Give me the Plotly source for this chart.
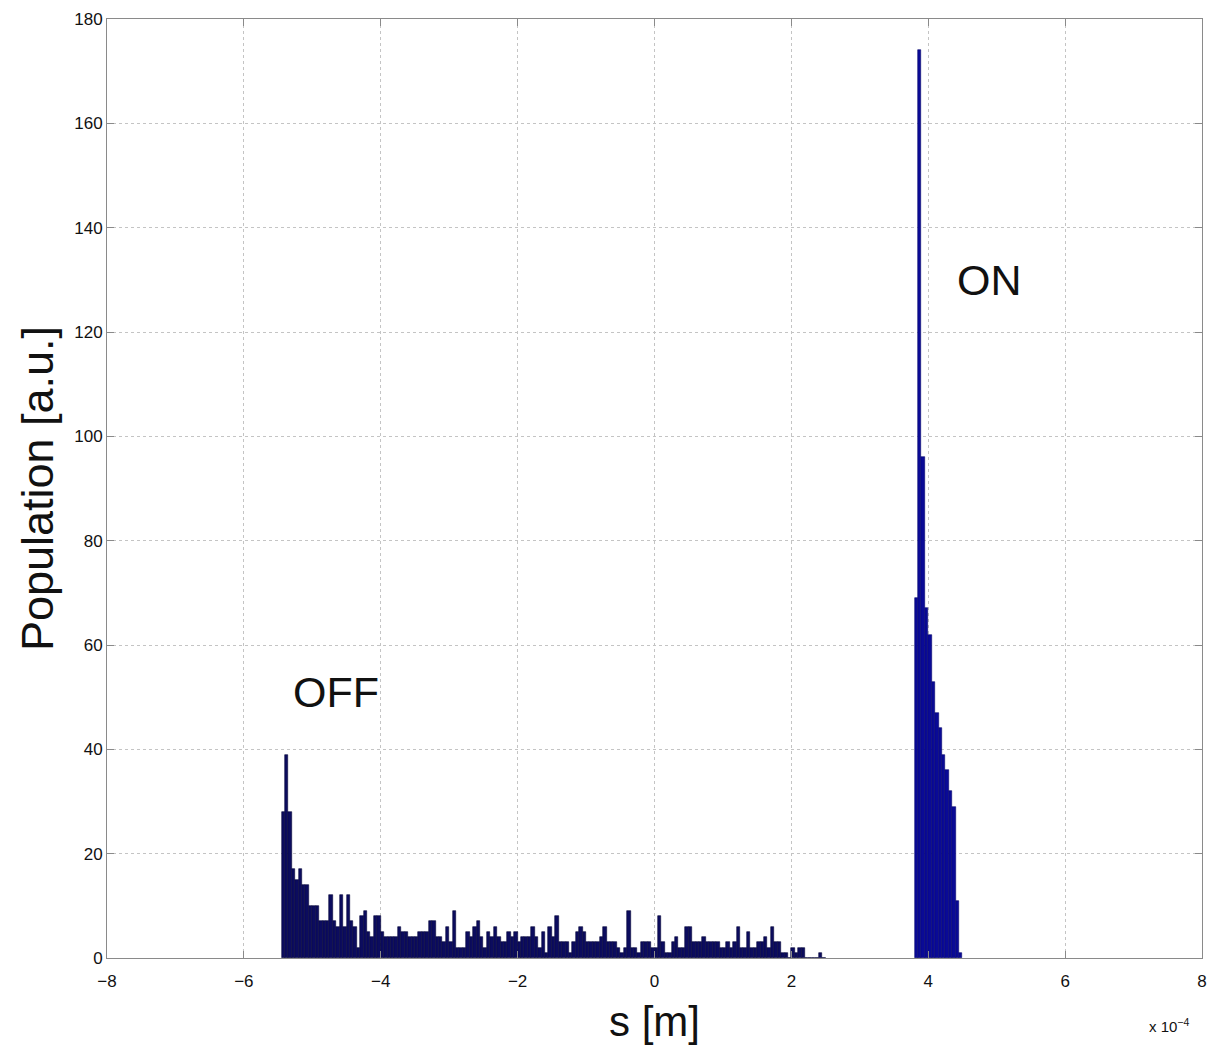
import numpy as np
import plotly.graph_objects as go

# Histogram data (s in units of 1e-4 m)
bin_width = 0.05
off_start = -5.45
off_counts = [
    28, 39, 28, 17, 15, 17, 14, 14, 10, 10, 10, 7, 7, 7, 12, 7, 6, 12, 6, 12,
    7, 6, 2, 8, 9, 5, 4, 8, 8, 5, 4, 4, 4, 4, 6, 5, 5, 4, 4, 4,
    5, 5, 5, 7, 7, 4, 4, 3, 6, 3, 9, 2, 2, 2, 5, 4, 6, 7, 4, 2,
    5, 4, 6, 4, 3, 3, 5, 4, 5, 3, 4, 4, 4, 6, 4, 2, 5, 1, 6,
    4, 8, 3, 3, 3, 1, 3, 5, 6, 5, 3, 3, 3, 3, 4, 6, 3, 3, 3, 2,
    1, 2, 9, 2, 2, 1, 3, 3, 3, 2, 2, 8, 3, 1, 1, 3, 4, 2, 2, 6,
    6, 3, 3, 3, 4, 3, 3, 3, 3, 2, 2, 3, 2, 3, 6, 2, 2, 5, 2, 2,
    3, 3, 4, 2, 6, 3, 3, 1, 1, 0, 2, 1, 2, 2, 0, 0, 0, 0, 1, 0,
]
on_start = 3.80
on_counts = [69, 174, 96, 67, 62, 53, 47, 44, 39, 36, 32, 29, 11, 1]

x_ticks = [-8, -6, -4, -2, 0, 2, 4, 6, 8]
y_ticks = [0, 20, 40, 60, 80, 100, 120, 140, 160, 180]

off_x = off_start + bin_width * (np.arange(len(off_counts)) + 0.5)
on_x = on_start + bin_width * (np.arange(len(on_counts)) + 0.5)

fig = go.Figure()
fig.add_trace(go.Bar(
    x=off_x, y=off_counts, width=bin_width,
    marker=dict(color="#0c0c5e", line=dict(color="#06063a", width=0.6)),
    showlegend=False, name="OFF"))
fig.add_trace(go.Bar(
    x=on_x, y=on_counts, width=bin_width,
    marker=dict(color="#0a0a96", line=dict(color="#06066e", width=0.6)),
    showlegend=False, name="ON"))

font_family = "Liberation Sans, Arial, sans-serif"
axis_common = dict(
    showline=True, linecolor="#8a8a8a", linewidth=1, mirror="allticks",
    ticks="inside", ticklen=7, tickcolor="#8a8a8a",
    showgrid=True, gridcolor="#c4c4c4", griddash="dot", gridwidth=1,
    zeroline=False, tickfont=dict(family=font_family, size=17, color="#111111"),
    ticklabeloverflow="allow",
)

fig.update_xaxes(range=[-8, 8], tickvals=x_ticks,
                 ticktext=[("\u2212" + str(abs(v))) if v < 0 else str(v) for v in x_ticks],
                 ticklabelstandoff=8,
                 title=dict(text="s [m]", font=dict(family=font_family, size=42, color="#111111"), standoff=16),
                 **axis_common)
fig.update_yaxes(range=[0, 180], tickvals=y_ticks,
                 title=dict(text="Population [a.u.]", font=dict(family=font_family, size=45, color="#111111"), standoff=6),
                 **axis_common)

fig.add_annotation(x=-4.65, y=51, text="OFF", showarrow=False,
                   font=dict(family=font_family, size=43, color="#111111"))
fig.add_annotation(x=4.9, y=130, text="ON", showarrow=False,
                   font=dict(family=font_family, size=43, color="#111111"))
fig.add_annotation(xref="paper", yref="paper", x=0.99, y=-0.072, xanchor="right", yanchor="middle",
                   text="x 10<sup>\u22124</sup>", showarrow=False,
                   font=dict(family=font_family, size=15, color="#111111"))

fig.update_layout(
    width=1213, height=1049,
    margin=dict(l=107, r=6, t=19, b=91),
    plot_bgcolor="white", paper_bgcolor="white",
    bargap=0, barmode="overlay",
)

fig.write_html("out.html")
